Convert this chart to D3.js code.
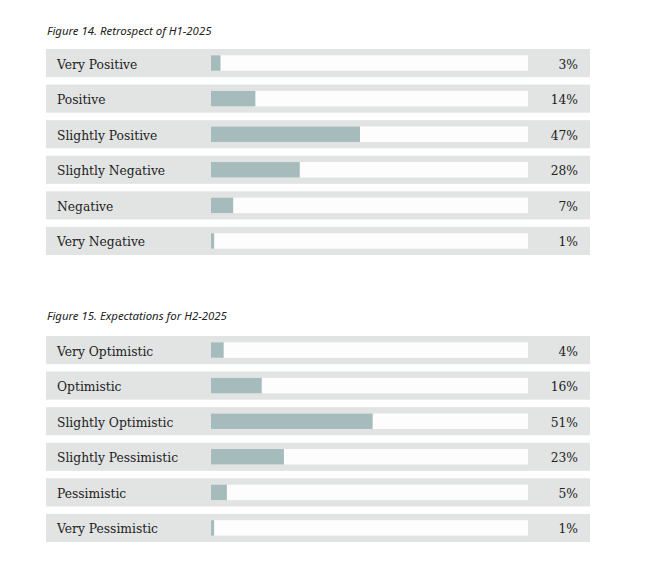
<!DOCTYPE html>
<html>
<head>
<meta charset="utf-8">
<script src="https://cdn.jsdelivr.net/npm/d3@7"></script>
<style>
  body { margin: 0; background: #fff; }
  .title { font-family: "Noto Sans", sans-serif; font-style: italic; font-size: 11.4px; fill: #222; }
  .lbl { font-family: "DejaVu Serif", serif; font-size: 12.3px; fill: #222; }
</style>
</head>
<body>
<div id="chart"></div>
<script>
/* DATA */
const title1 = "Figure 14. Retrospect of H1-2025";
const cats1 = ["Very Positive", "Positive", "Slightly Positive", "Slightly Negative", "Negative", "Very Negative"];
const vals1 = [3, 14, 47, 28, 7, 1];

const title2 = "Figure 15. Expectations for H2-2025";
const cats2 = ["Very Optimistic", "Optimistic", "Slightly Optimistic", "Slightly Pessimistic", "Pessimistic", "Very Pessimistic"];
const vals2 = [4, 16, 51, 23, 5, 1];

/* CONSTANTS */
const width = 657, height = 561;
const bandLeft = 46, bandRight = 590;
const trackLeft = 211, trackRight = 528;

const svg = d3.select("#chart")
  .append("svg")
  .attr("width", width)
  .attr("height", height);

const x = d3.scaleLinear().domain([0, 100]).range([trackLeft, trackRight]);

function drawFigure(title, cats, vals, top, bottom, titleY) {
  const data = cats.map((c, i) => ({ cat: c, val: vals[i] }));
  const y = d3.scaleBand()
    .domain(cats)
    .range([top, bottom])
    .paddingInner(0.21)
    .paddingOuter(0);

  const g = svg.append("g");

  g.append("text")
    .attr("class", "title")
    .attr("x", 47)
    .attr("y", titleY)
    .text(title);

  const row = g.selectAll(".row")
    .data(data)
    .join("g")
    .attr("class", "row")
    .attr("transform", d => `translate(0,${y(d.cat)})`);

  // grey band
  row.append("rect")
    .attr("x", bandLeft)
    .attr("width", bandRight - bandLeft)
    .attr("height", y.bandwidth())
    .attr("fill", "#e1e4e3");

  // white track
  const trackH = 15.5;
  row.append("rect")
    .attr("x", x(0))
    .attr("y", (y.bandwidth() - trackH) / 2)
    .attr("width", x(100) - x(0))
    .attr("height", trackH)
    .attr("fill", "#fdfdfd");

  // value bar
  row.append("rect")
    .attr("x", x(0))
    .attr("y", (y.bandwidth() - trackH) / 2)
    .attr("width", d => x(d.val) - x(0))
    .attr("height", trackH)
    .attr("fill", "#a6bbbc");

  row.append("text")
    .attr("class", "lbl")
    .attr("x", 57)
    .attr("y", y.bandwidth() / 2 + 1.2)
    .attr("dy", "0.35em")
    .text(d => d.cat);

  row.append("text")
    .attr("class", "lbl")
    .attr("x", 578)
    .attr("y", y.bandwidth() / 2 + 1.2)
    .attr("dy", "0.35em")
    .attr("text-anchor", "end")
    .text(d => d.val + "%");
}

drawFigure(title1, cats1, vals1, 49, 255, 35);
drawFigure(title2, cats2, vals2, 336, 542, 320);
</script>
</body>
</html>
